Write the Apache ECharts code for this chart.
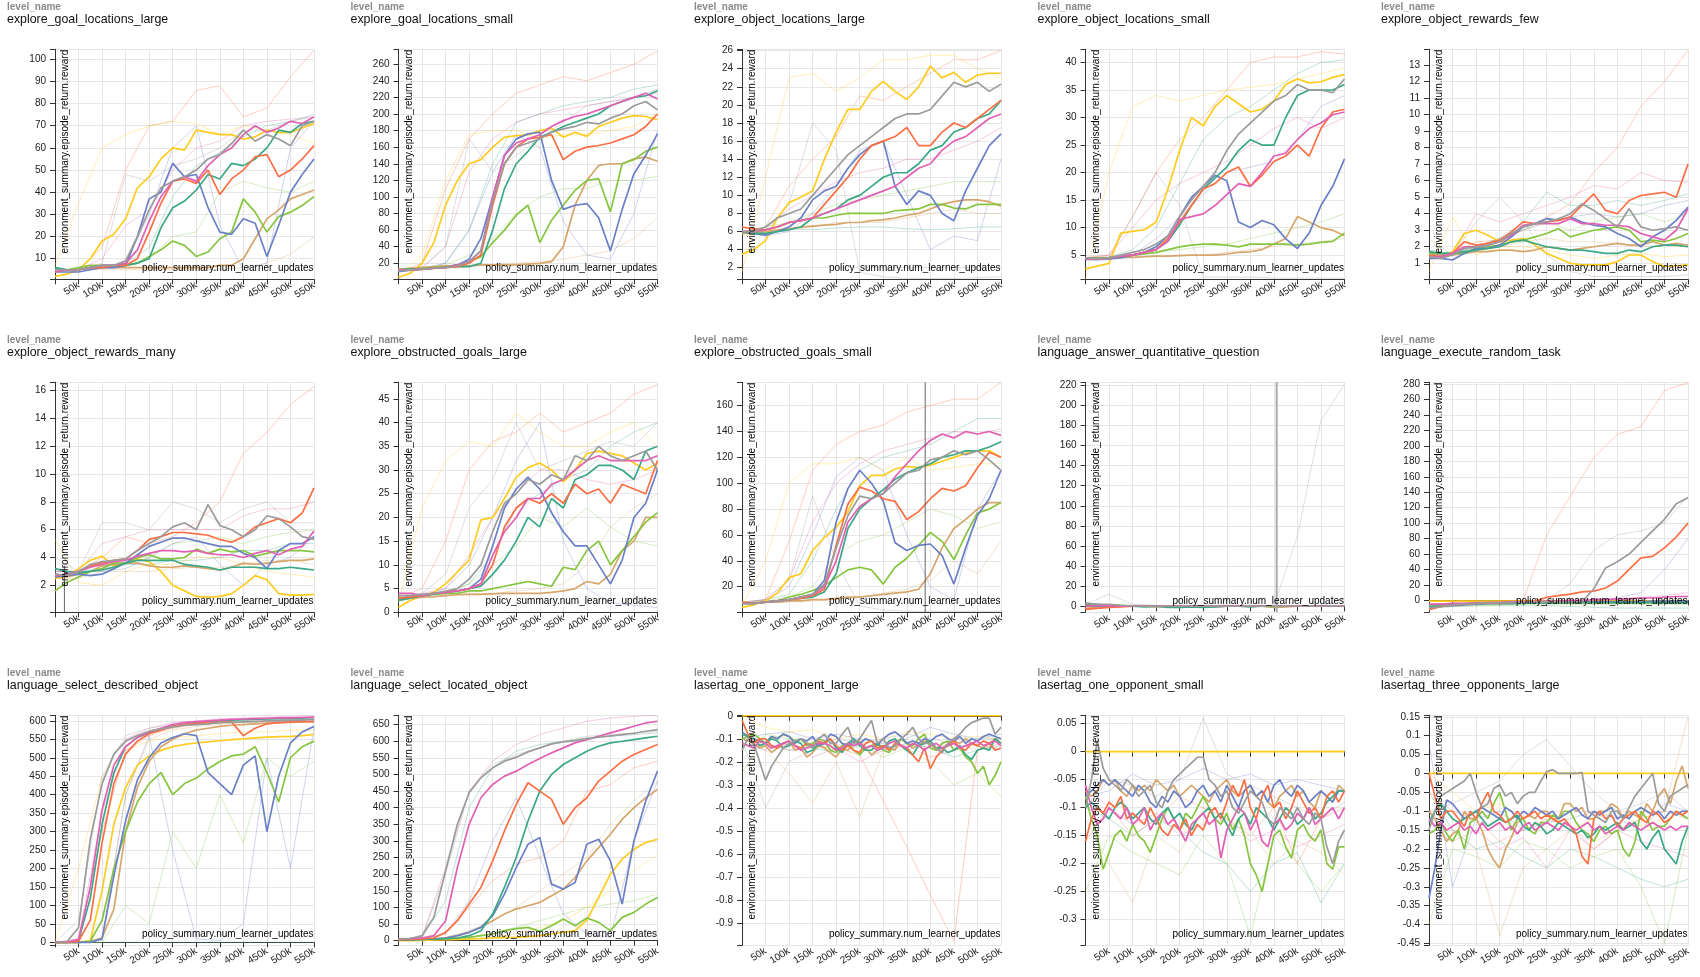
<!DOCTYPE html>
<html><head><meta charset="utf-8">
<script src="https://cdn.jsdelivr.net/npm/echarts@6/dist/echarts.min.js"></script>
<style>html,body{margin:0;padding:0;background:#fff}#chart{width:1700px;height:977px}</style>
</head><body><div id="chart"></div>
<script>
// ---------------- DATA ----------------
const levelNames = ['explore_goal_locations_large','explore_goal_locations_small','explore_object_locations_large','explore_object_locations_small','explore_object_rewards_few','explore_object_rewards_many','explore_obstructed_goals_large','explore_obstructed_goals_small','language_answer_quantitative_question','language_execute_random_task','language_select_described_object','language_select_located_object','lasertag_one_opponent_large','lasertag_one_opponent_small','lasertag_three_opponents_large'];
const xName = 'policy_summary.num_learner_updates';
const yName = 'environment_summary.episode_return.reward';
const stepsDense = [0,12500,25000,37500,50000,62500,75000,87500,100000,112500,125000,137500,150000,162500,175000,187500,200000,212500,225000,237500,250000,262500,275000,287500,300000,312500,325000,337500,350000,362500,375000,387500,400000,412500,425000,437500,450000,462500,475000,487500,500000,512500,525000,537500,550000];
const stepsBold = [0,25000,50000,75000,100000,125000,150000,175000,200000,225000,250000,275000,300000,325000,350000,375000,400000,425000,450000,475000,500000,525000,550000];
const stepsFaint = [0,50000,100000,150000,200000,250000,300000,350000,400000,450000,500000,550000];
// y extent per panel: [min, max, tick step]
const yExtents = [[0.7,104.5,10],[0.7,278,20],[0.72,26.15,2],[0.6,42.4,5],[0.03,13.95,1],[0.06,16.6,2],[0,48.5,5],[0.2,178,20],[-6,223,20],[-15.5,282.5,20],[-8,615,50],[-14,678,50],[-0.998,0.002,0.1],[-0.346,0.065,0.05],[-0.455,0.154,0.05]];
// run order in every block: teal, orange, blue, pink, green, yellow, tan, gray
const runs = ['teal','orange','blue','pink','green','yellow','tan','gray'];

const goalLocLargeBold = [
[6,5,5,6,7,7,7,8,10,24,33,36,41,48,46,53,52,55,60,68,67,71,72],
[4,5,5,6,6,7,7,10,22,35,45,46,44,50,39,46,50,56,57,47,50,55,61],
[4,4,4,5,6,6,7,20,37,40,53,47,48,33,22,21,28,26,11,25,40,48,55],
[4,5,5,6,7,7,8,14,27,38,45,47,45,52,57,60,66,70,67,69,72,71,74],
[6,5,6,7,7,7,7,8,11,14,18,16,11,13,19,22,37,31,22,29,31,34,38],
[2,3,5,10,18,21,28,42,47,55,60,59,68,67,66,66,64,65,68,67,67,69,71],
[5,5,5,6,6,6,6,6,6,6,6,6,6,6,7,7,10,19,28,32,37,39,41],
[5,5,5,6,7,7,9,20,32,42,45,47,50,55,57,62,68,63,66,64,61,70,72]];
const goalLocLargeFaint = [
[5,5,6,8,15,38,52,58,65,70,72,75],
[5,5,15,50,70,72,86,88,74,78,92,104],
[5,5,6,8,30,60,70,25,5,8,60,72],
[4,5,10,25,32,50,60,63,70,72,73,74],
[5,5,6,7,10,20,22,40,45,42,40,45],
[7,35,60,66,70,72,71,66,70,68,66,62],
[5,5,5,5,5,5,5,5,6,8,12,20],
[5,5,8,48,45,52,55,60,68,68,72,74]];

const goalLocSmallBold = [
[12,13,13,14,15,16,16,20,60,110,140,155,172,178,185,190,195,200,210,215,220,222,228],
[12,12,13,14,15,16,20,30,90,140,160,170,172,175,145,155,160,162,165,170,175,185,200],
[10,12,13,14,15,18,25,50,100,150,170,176,178,120,85,90,92,75,35,85,128,150,176],
[12,12,13,14,15,18,22,35,100,150,165,170,175,185,192,197,200,205,210,215,220,225,218],
[12,13,14,15,16,18,22,28,45,60,78,90,45,72,90,108,120,122,82,140,145,155,160],
[3,8,20,45,90,120,140,145,160,172,174,175,180,183,172,178,173,185,190,195,198,197,193],
[13,14,15,16,17,17,17,18,18,18,18,19,20,22,40,90,120,138,140,140,146,148,143],
[11,12,13,14,15,17,22,35,95,140,160,165,170,178,182,185,190,188,195,200,210,215,205]];
const goalLocSmallFaint = [
[12,14,20,60,140,190,200,210,215,220,230,235],
[10,20,110,170,200,225,235,245,240,250,260,276],
[10,12,20,60,130,175,160,70,30,25,80,180],
[10,14,40,130,170,190,200,205,210,215,220,225],
[10,12,18,30,50,80,100,110,110,120,120,125],
[5,30,120,175,180,180,170,175,175,180,185,200],
[10,12,14,16,18,20,22,25,30,35,50,75],
[10,15,40,170,130,150,170,190,210,215,220,230]];

const objLocLargeBold = [
[6,5.8,5.8,6,6.2,6.5,7.5,8,8.5,9.5,10,11,12,12.5,12.5,13.5,15,15.5,17,17.5,18.5,19,20.5],
[6.5,6.3,6.2,6.5,7,7.2,7.5,9,10.5,12,14,15.5,16,16.5,17.5,15.5,15.5,17,18,17.5,18.5,19.5,20.5],
[6,5.8,5.6,6,6.5,7.5,9.5,10.5,11,13,14.5,15.5,16,11,9,10.5,10,8,7.2,10.5,13,15.5,16.8],
[6,6,6.2,6.5,7,7.2,7.5,8,8.5,9,9.5,10,10.5,11,12,13,13.5,15,16,16.5,17.5,18.5,19],
[5.8,6,6.2,6.5,7,7.2,7.5,7.5,7.8,8,8,8,8,8.3,8.4,8.5,9,9,8.6,8.5,9,9,9],
[3.5,4,5,7.5,9.2,9.8,10.5,14,17,19.5,19.5,21.5,22.6,21.5,20.6,22,24.3,23,23.6,22.5,23.3,23.5,23.5],
[5.8,5.9,6,6.2,6.3,6.5,6.6,6.7,6.8,7,7,7.2,7.3,7.5,7.8,8,8.5,9,9.3,9.5,9.5,9.3,8.8],
[6,6,6.5,7.5,8,8.5,10,11.5,13,14.5,15.5,16.5,17.5,18.5,19,19,19.5,21,22.5,22,22.5,21.5,22.3]];
const objLocLargeFaint = [
[6,6,6.3,6.2,6.4,6.5,6.5,6.3,6.2,6.3,6.5,6.5],
[6,6.5,11,14,16.5,21,20.5,22,23.5,25,25,26],
[6,5.5,6,8,11,15,16,10,4,5.5,5,14],
[6,6.5,8.5,10,11.5,12.5,13,14,14,15,16,17.5],
[6,6.5,7,8,9,9.5,10,10.5,11,11.5,11.5,11.5],
[1.5,12,23,23.5,21.5,23,25,25,25.5,25.5,24,23],
[5.5,6,6.2,6.5,7,7,7,7.5,8,8.5,8,8],
[6,6,9,18,15,1.5,1,0.8,0.8,0.8,0.9,1]];

const objLocSmallBold = [
[4.5,4.3,4.5,4.8,5,5.5,6,7.5,10.5,14,17,19,21,24,26,25,25,30,34,35,35,35,36],
[4.5,4.3,4.5,4.8,5,5.5,6,8,11,14,17,18,20,21,17.5,19.5,22,23,25,23,28,31,31.5],
[4.3,4.2,4.3,4.5,5,5.5,6.5,8.5,12,15.5,17.5,19.5,18.5,11,10,11.3,10.5,8,6.2,9,14,17.5,22.5],
[4.3,4.2,4.5,4.8,5,5.5,6,7.5,11.5,12,12.5,14,16,18,17.5,20,23,23.5,26,28,29,30.5,31],
[4.5,4.5,4.6,4.8,5,5.2,5.5,6,6.5,6.8,7,7,6.8,6.5,7,7,7,7,6.8,7,7.3,7.5,9],
[2.5,3,3.5,9,9.3,9.6,11,17,24,30,28.5,32,34,32.5,31,31.5,33,36,37,36.3,36.5,37.3,37.8],
[4.5,4.4,4.5,4.6,4.6,4.7,4.8,4.8,4.9,5,5,5,5.2,5.5,5.6,6,7,8,12,11,10,9.5,8.5],
[4.5,4.3,4.5,5,5.5,6,7,8.5,12,15,17.5,20,24,27,29,31,33,34,36,35,35,34.5,37]];
const objLocSmallFaint = [
[4.5,4.6,6,10,18,26,30,32,35,38,40,40.5],
[4.5,5,12,20,26,30,35,40,41,41,42,41.5],
[4,4.2,5,8,12,16,20,21,22,26,32,34],
[4.5,5,10,15,18,20,22,25,28,30,28,30],
[4.5,4.5,5,5.5,6,6.5,7,8,9,10,11,12.5],
[0.6,20,32,34,33,34,35,35.5,36,37,38,39],
[4.5,4.5,4.7,4.8,5,5,5.5,6,6.5,7,7.5,8],
[4.5,4.5,12,20,14,1,1,1,0.8,0.8,0.8,0.8]];

const objRewardsFewBold = [
[1.7,1.6,1.6,1.7,1.8,1.9,2.0,2.3,2.4,2.2,2.0,1.9,1.8,1.8,1.7,1.6,1.6,1.8,1.7,2.0,2.1,2.1,2.0],
[1.5,1.4,1.6,2.3,2.1,2.2,2.4,2.9,3.5,3.4,3.5,3.6,3.8,4.5,5.2,4.2,4.0,4.8,5.1,5.2,5.3,5.0,7.0],
[1.3,1.3,1.2,1.6,1.9,1.9,2.1,2.6,3.2,3.4,3.7,3.6,3.8,3.5,3.3,3.2,2.8,2.5,2.0,2.6,3.0,3.6,4.4],
[1.4,1.4,1.6,2.0,2.0,2.1,2.3,2.7,3.3,3.4,3.4,3.4,3.7,3.4,3.4,3.3,3.3,3.2,2.8,2.6,2.4,3.0,4.3],
[1.6,1.6,1.6,1.6,1.9,2.0,2.1,2.3,2.4,2.6,2.8,3.1,2.6,2.8,3.0,3.1,3.2,3.0,2.3,2.4,2.3,2.5,2.8],
[1.5,1.3,1.7,2.8,3,2.7,2.3,2.4,2.5,2.1,1.6,1.3,1.0,0.9,0.9,0.9,1.1,1.5,1.5,1.1,0.8,0.85,0.9],
[1.6,1.5,1.5,1.6,1.7,1.7,1.8,1.8,1.7,1.8,2.0,1.9,1.8,1.9,2.0,2.1,2.2,2.1,2.1,2.3,2.1,2.2,2.1],
[1.4,1.3,1.5,1.9,2.0,2.1,2.3,2.8,3.2,3.4,3.5,3.7,4.0,4.6,4.2,3.7,3.2,4.3,3.2,3.0,3.1,3.2,3.0]];
const objRewardsFewFaint = [
[1.8,1.6,2,2.5,3.5,5.3,4.5,4.5,4.8,4.5,4.8,5.2],
[1.3,1.6,2.3,2.4,3.0,3.8,4.6,6.5,8,10.5,12,13.9],
[1.5,1.5,2,2.5,3,3.5,3.8,4,3.8,4,4.5,4.8],
[1.5,1.5,4,3.5,4,4.5,5,5.7,5.5,6.5,6,5.9],
[2.5,1.5,2,2.5,3,3.5,3,3.5,3.8,4,3.5,4],
[0.5,3.8,1.5,2.0,2.0,1.8,1.5,1.3,1.5,1.6,1.4,1.5],
[1.6,1.5,1.8,2,2.3,2.5,2.3,2.3,2.2,2,2.1,2],
[1.5,1.5,3.5,5,3.5,1.5,0.5,0.2,0.2,0.2,0.2,0.3]];

const objRewardsManyBold = [
[3.2,3.0,2.9,3.0,3.1,3.3,3.6,3.8,3.8,3.8,3.8,3.5,3.4,3.3,3.1,3.3,3.3,3.3,3.2,3.2,3.3,3.2,3.1],
[2.8,2.7,3.0,3.4,3.6,3.8,3.9,4.5,5.3,5.5,5.8,5.8,5.7,5.6,5.3,5.1,5.5,6.2,6.5,6.8,6.5,7.2,9.0],
[2.6,2.7,2.8,2.7,2.8,3.2,3.6,4.2,4.8,5.1,5.4,5.4,5.2,5.0,4.8,4.8,4.3,4.0,3.2,4.5,5.0,5.0,5.5],
[2.7,2.8,3.0,3.3,3.5,3.7,3.8,4.1,4.3,4.5,4.5,4.4,4.5,4.3,4.2,4.2,4.0,4.3,4.5,4.2,4.6,4.8,5.9],
[1.6,2.2,2.6,3.0,3.2,3.6,3.6,4.0,4.2,3.9,3.9,4.0,4.6,4.3,4.6,4.4,4.5,4.1,4.3,4.5,4.5,4.5,4.4],
[2.5,2.6,3.2,3.8,4.1,3.4,3.6,3.9,3.7,3.0,2.0,1.6,1.2,1.15,1.2,1.4,2.0,2.7,2.4,1.4,1.3,1.3,1.35],
[2.7,2.6,2.8,3.0,3.4,3.5,3.6,3.6,3.4,3.3,3.3,3.4,3.3,3.2,3.1,3.3,3.6,3.5,3.6,3.7,3.8,3.8,3.9],
[2.8,2.7,3.0,3.5,3.7,3.8,3.9,4.5,5.0,5.5,6.2,6.5,6.0,7.8,6.3,6.0,5.5,6.0,7.0,6.8,6.2,5.5,5.3]];
const objRewardsManyFaint = [
[3,3,3.2,3.5,3.5,3.8,3.8,4,4.5,4.5,5,5],
[3,3,4,5.5,5,5.5,6.5,8,11.5,13,15,16.3],
[3,3,3,3.2,4,5,5.5,3.5,2,3.5,4,5.5],
[3,3,5,5.5,6,6,6,6,7,7.5,7.5,8],
[2.5,3,3.5,3.5,4,5,5.2,5.5,5,5.5,5.8,6],
[5.3,2.2,2,3,3.5,3.5,4,4,3.5,3,2.8,2.6],
[2.5,2.5,3,3,3,3.2,3.3,3.3,3.5,3.8,3.8,3.5],
[4,3,6.5,6.5,6,8,7.5,6.5,7.5,8,6.5,6.5]];

const obstructedLargeBold = [
[2.5,3,3.5,3.8,4.2,4.5,5,5.5,8,11,15,20,18,24,22,28,29,31,31,30,28,34,35],
[3,3.2,3.5,4,4.2,4.5,5,6,10,18,22,24,23,25,23,27,25,26,23,27,26,25,32],
[3,3.2,3.5,4,4.2,4.5,5,7,14,22,26,28.5,26,21,17,14,14,10,6,11,20,23,30],
[4,4,3.5,4,4.2,4.5,5,6,12,17,20,24,24,27,28,30,32,33,32,32,32,32,33],
[2.5,3,3.5,3.8,4,4,4.5,4.5,5,5.5,6,6.5,6,5.5,9.5,9,13,15,10,13,16,19,21],
[1,2.5,3.5,4.2,6,8.5,11,19.5,20,24,28.5,30.5,31.5,30,27.5,30,33.5,34,33.5,33,31.5,30,31.5],
[3,3,3.2,3.3,3.5,3.7,3.8,3.8,3.9,4,4,4,4,4.2,4.5,5,6.5,6,8,13,15,20,20],
[3.5,3.5,3.8,4,4.5,5,7,10,17,23,25,28,27,29,28,33,32,35,33,32,33,34,30]];
const obstructedLargeFaint = [
[3,3.5,4,6,12,22,25,28,30,35,38,40],
[3,5,15,30,36,38,42,38,40,42,46,48],
[3,3.5,5,10,20,32,40,15,5,2,1.5,1],
[4,4,5,12,20,25,30,30,28,27,28,30],
[3,3.5,4,6,10,14,20,18,22,18,15,14],
[2,22,32,36,35,42,38,35,35,38,40,35],
[3,3,3.5,4,4,4.5,5,6,10,18,22,25],
[3,4,8,22,28,40,30,32,34,36,35,40]];

const obstructedSmallBold = [
[7,7,8,9,10,11,12,16,30,65,80,88,95,103,108,112,115,120,122,125,125,128,132],
[8,7,8,9,10,11,13,18,52,84,97,94,88,86,72,78,88,96,94,98,112,124,120],
[7,7,8,9,10,12,14,25,70,96,110,100,86,54,48,52,53,44,22,50,75,88,110],
[7,7,8,9,10,12,14,20,40,70,82,88,92,105,115,125,133,138,135,140,138,140,137],
[8,7,8,9,12,14,17,21,27,33,35,33,22,35,42,52,62,55,41,60,77,80,85],
[4,6,9,15,27,30,48,58,66,78,98,106,106,111,113,112,114,117,120,123,125,125,120],
[7,7,8,8,9,9,10,10,11,12,12,13,14,15,16,18,30,50,65,72,80,85,85],
[7,7,8,9,10,12,14,22,50,75,90,88,92,100,108,110,118,120,125,122,125,118,110]];
const obstructedSmallFaint = [
[8,10,14,40,80,110,120,125,130,140,150,150],
[7,10,55,110,130,140,145,155,160,165,165,178],
[7,9,20,60,105,120,110,60,20,10,80,110],
[8,10,25,70,100,115,125,130,135,140,138,142],
[7,9,12,20,45,55,60,70,80,75,65,70],
[5,40,100,115,115,120,110,120,110,112,115,115],
[7,8,8,9,10,12,15,18,25,40,30,55],
[8,10,25,90,40,5,2,1,1,1,1,1]];

const quantQuestionBold = [
[3,2,1,0.5,0,-0.5,0,-1,-1,-0.5,-1,-0.5,0,0,-0.5,0,0,0,0.5,0,0,0.5,0.5],
[-3,-2,-1,-0.5,0,0.5,0,0,0.5,0,0,0.5,0,0,0.5,0,0,0,0.5,0,0.5,0.5,0.5],
[1,0,0.5,0,0,0,0.5,0,0,0.5,0,0,0.5,0,0,0,0.5,0,0,0.5,0,0,0.5],
[0,1,0.5,0,0.5,0,0,0.5,0,0,0.5,0,0,0.5,0,0,0,0.5,0,0,0.5,0,0],
[2,1,0.5,1,0,0,0.5,0,-0.5,-0.5,0,0,0,0.5,0,0,-0.5,0,0,0,0.5,0,0.5],
[0.5,0.5,0.5,0,0,0,0,0,0,0,0,0,0,0,0,0,0,0,0,0,0,0,0],
[-2,-1,0,0.5,0,0,-0.5,0,-1,-0.5,0,-0.5,0,0,0,0,-1,-0.5,0,0,0,0,0],
[3,2,2,1,0.5,0,0.5,0,0,0.5,0,0.5,0,0,0.5,0,0,0.5,0,0.5,0,0.5,0]];
const quantQuestionFaint = [
[2,1,0,0,-1,0,0,0,0,0,0,0],
[-2,0,0,0,0,0,0,0,0,0,0,0],
[1,0,0,0,0,0,0,0,0,0,0,8],
[0,0,0,0,0,0,0,0,0,0,0,0],
[1,0,0,-1,0,0,0,0,0,0,0,0],
[0,0,0,0,0,0,0,0,0,0,0,0],
[-1,0,0,0,-1,0,0,0,0,0,0,0],
[2,12,2,1,0,0,0,0,0,70,185,221]];

const randomTaskBold = [
[-8,-7,-6,-5,-4,-4,-4,-4,-4,-3,-3,-3,-3,-3,-3,-3,-3,-3,-3,-3,-3,-3,-3],
[-12,-8,-6,-5,-4,-3,-3,-2,-2,-1,4,6,8,11,12,16,25,40,55,57,68,82,100],
[-10,-8,-7,-6,-5,-4,-4,-4,-3,-3,-3,-2,-2,-2,-2,-2,-2,-2,-2,-1,-1,-1,-1],
[-5,-5,-4,-4,-3,-3,-3,-2,-2,-2,-1,-1,0,0,1,1,2,2,3,3,4,5,5],
[-8,-7,-6,-5,-5,-4,-4,-4,-4,-3,-3,-3,-3,-3,-3,-3,-3,-3,-3,-3,-3,-3,-3],
[-1,-1,-1,-1,-1,-1,-1,-1,-1,-1,-1,-1,-1,-1,-1,-1,-1,-1,-1,-1,-1,-1,-1],
[-6,-5,-5,-5,-4,-4,-4,-4,-3,-3,-3,-3,-3,-3,-3,-3,-3,-3,-3,-2,-2,-2,-2],
[-10,-8,-6,-5,-4,-3,-3,-3,-3,-2,-2,-2,-2,-2,15,42,50,60,75,90,105,125,133]];
const randomTaskFaint = [
[-10,-8,-7,-7,-7,-7,-8,-9,-10,-10,-10,-10],
[-12,-5,-4,-3,0,85,135,185,215,225,272,282],
[-8,-6,-5,-4,-3,-3,-2,-2,3,10,40,80],
[-5,-4,-3,-3,-2,-2,-1,0,2,4,6,10],
[-10,-8,-7,-6,-5,-5,-5,-5,-5,-5,-5,-5],
[0,0,0,0,0,0,0,0,0,0,0,0],
[-8,-6,-5,-4,-4,-3,-2,-2,-1,-1,0,0],
[-5,-4,-3,-3,-2,-1,22,65,85,90,100,135]];

const describedObjectBold = [
[0,0,5,120,320,460,530,555,568,578,586,590,595,598,600,602,603,604,605,606,606,605,604],
[0,0,3,60,270,430,510,545,565,575,585,590,593,595,596,597,560,580,592,595,597,598,598],
[0,0,0,0,10,180,330,440,500,540,555,565,560,460,430,400,480,505,300,450,540,570,585],
[0,1,8,150,360,480,530,555,570,580,590,595,598,600,602,604,605,606,607,608,608,609,610],
[0,0,0,3,60,200,300,380,430,460,400,430,445,470,490,505,510,530,460,380,500,530,545],
[0,0,0,5,140,320,420,480,505,520,530,536,540,543,546,549,551,554,556,557,558,560,563],
[0,0,0,2,12,90,300,420,490,530,550,565,575,580,585,588,590,592,594,595,596,597,598],
[0,1,40,280,430,510,545,560,572,578,583,588,590,592,595,596,597,598,600,600,601,602,604]];
const describedObjectFaint = [
[0,0,0,0,0,0,0,0,0,0,0,0],
[0,5,300,520,560,580,590,595,600,600,605,605],
[0,0,5,400,560,250,10,5,50,500,200,580],
[0,10,350,550,580,595,600,605,608,610,612,613],
[0,0,0,100,50,300,200,400,270,500,450,490],
[0,200,450,520,545,555,560,565,570,570,575,575],
[0,0,10,400,550,575,585,590,595,598,600,600],
[0,60,450,560,580,590,595,600,600,605,605,610]];

const locatedObjectBold = [
[2,3,4,5,6,8,15,30,80,160,250,360,450,500,530,550,570,585,595,600,605,610,615],
[3,4,5,8,25,60,110,160,240,330,410,475,450,425,350,400,430,480,510,540,560,575,590],
[2,3,4,5,8,15,25,40,75,140,220,290,310,170,155,175,290,305,240,110,300,420,510],
[5,6,8,15,60,220,350,430,470,495,510,530,548,565,580,595,605,615,625,635,645,655,660],
[2,3,4,5,6,8,10,15,20,30,36,40,28,45,65,45,68,55,30,70,85,110,130],
[0,0,1,2,3,4,5,6,8,9,10,12,15,20,25,30,62,130,200,245,275,295,305],
[2,3,4,5,8,15,25,40,60,80,95,105,115,135,155,190,240,280,320,365,400,430,455],
[5,6,15,70,210,350,445,490,520,540,552,568,580,592,598,602,608,612,616,620,624,630,635]];
const locatedObjectFaint = [
[5,10,120,400,520,570,590,600,610,615,620,625],
[3,5,20,100,180,230,250,300,450,470,520,540],
[3,5,20,120,300,430,250,80,20,10,300,480],
[5,10,220,450,540,590,620,640,660,670,675,678],
[2,3,5,10,20,40,60,80,100,110,120,140],
[0,0,2,5,10,20,40,60,100,150,210,260],
[3,5,10,30,60,100,150,200,250,350,420,480],
[5,10,200,450,530,560,580,600,615,620,625,630]];

const oneOppLargeBold = [
[-0.08,-0.09,-0.1,-0.13,-0.12,-0.1,-0.11,-0.14,-0.13,-0.11,-0.12,-0.16,-0.15,-0.12,-0.12,-0.1,-0.14,-0.16,-0.12,-0.1,-0.13,-0.15,-0.15,-0.12,-0.14,-0.11,-0.1,-0.13,-0.15,-0.17,-0.13,-0.12,-0.11,-0.14,-0.14,-0.16,-0.15,-0.13,-0.17,-0.19,-0.15,-0.14,-0.15,-0.1,-0.12],
[-0.02,-0.08,-0.12,-0.1,-0.1,-0.13,-0.14,-0.12,-0.11,-0.13,-0.14,-0.12,-0.13,-0.11,-0.12,-0.1,-0.13,-0.15,-0.13,-0.15,-0.16,-0.12,-0.11,-0.14,-0.13,-0.15,-0.12,-0.13,-0.14,-0.17,-0.2,-0.14,-0.23,-0.18,-0.15,-0.12,-0.11,-0.14,-0.15,-0.12,-0.13,-0.11,-0.12,-0.15,-0.14],
[-0.07,-0.09,-0.1,-0.11,-0.12,-0.09,-0.1,-0.08,-0.09,-0.12,-0.1,-0.11,-0.09,-0.13,-0.12,-0.08,-0.09,-0.12,-0.13,-0.11,-0.12,-0.1,-0.11,-0.13,-0.1,-0.08,-0.07,-0.09,-0.12,-0.11,-0.12,-0.1,-0.11,-0.09,-0.08,-0.1,-0.11,-0.09,-0.12,-0.1,-0.11,-0.09,-0.08,-0.09,-0.1],
[-0.12,-0.13,-0.14,-0.11,-0.12,-0.14,-0.13,-0.12,-0.11,-0.13,-0.15,-0.14,-0.13,-0.12,-0.12,-0.13,-0.15,-0.14,-0.12,-0.13,-0.12,-0.14,-0.13,-0.15,-0.14,-0.12,-0.11,-0.13,-0.14,-0.12,-0.13,-0.15,-0.13,-0.12,-0.14,-0.13,-0.12,-0.14,-0.13,-0.12,-0.11,-0.13,-0.12,-0.11,-0.13],
[-0.1,-0.09,-0.08,-0.1,-0.12,-0.09,-0.1,-0.08,-0.09,-0.11,-0.1,-0.13,-0.12,-0.1,-0.11,-0.15,-0.16,-0.13,-0.12,-0.15,-0.17,-0.14,-0.13,-0.12,-0.15,-0.16,-0.12,-0.1,-0.12,-0.13,-0.1,-0.08,-0.14,-0.15,-0.12,-0.11,-0.15,-0.14,-0.18,-0.2,-0.25,-0.22,-0.3,-0.26,-0.2],
[0,0,0,0,0,0,0,0,0,0,0,0,0,0,0,0,0,0,0,0,0,0,0,0,0,0,0,0,0,0,0,0,0,0,0,0,0,0,0,0,0,0,0,0,0],
[-0.1,-0.11,-0.12,-0.14,-0.13,-0.16,-0.14,-0.12,-0.11,-0.15,-0.14,-0.18,-0.16,-0.13,-0.14,-0.16,-0.18,-0.14,-0.15,-0.12,-0.11,-0.14,-0.17,-0.15,-0.13,-0.14,-0.15,-0.1,-0.12,-0.14,-0.13,-0.11,-0.12,-0.15,-0.14,-0.13,-0.11,-0.12,-0.1,-0.12,-0.13,-0.14,-0.12,-0.1,-0.12],
[-0.15,-0.1,-0.12,-0.2,-0.28,-0.22,-0.18,-0.14,-0.12,-0.11,-0.1,-0.12,-0.14,-0.1,-0.08,-0.12,-0.12,-0.08,-0.05,-0.12,-0.1,-0.06,-0.02,-0.12,-0.1,-0.14,-0.13,-0.1,-0.08,-0.05,-0.1,-0.12,-0.12,-0.14,-0.16,-0.12,-0.1,-0.08,-0.05,-0.03,-0.02,-0.01,-0.01,-0.08,-0.05]];
const oneOppLargeFaint = [
[-0.1,-0.12,-0.15,-0.14,-0.16,-0.13,-0.15,-0.12,-0.14,-0.18,-0.15,-0.13],
[-0.1,-0.12,-0.15,-0.13,-0.14,-0.17,-0.37,-0.57,-0.78,-0.98,-0.15,-0.12],
[-0.1,-0.08,-0.07,-0.1,-0.08,-0.1,-0.12,-0.1,-0.05,-0.08,-0.1,-0.08],
[-0.12,-0.15,-0.12,-0.18,-0.14,-0.2,-0.15,-0.13,-0.18,-0.15,-0.12,-0.15],
[-0.25,-0.08,-0.1,-0.12,-0.15,-0.12,-0.18,-0.14,-0.2,-0.3,-0.25,-0.35],
[0,-0.05,-0.07,-0.06,-0.1,-0.08,-0.1,-0.07,-0.08,-0.1,-0.09,-0.1],
[-0.1,-0.15,-0.25,-0.38,-0.2,-0.44,-0.15,-0.12,-0.14,-0.12,-0.15,-0.13],
[-0.1,-0.4,-0.2,-0.15,-0.1,-0.12,-0.1,-0.08,-0.1,-0.12,-0.1,-0.1]];

const oneOppSmallBold = [
[-0.1,-0.09,-0.1,-0.11,-0.12,-0.1,-0.09,-0.1,-0.12,-0.11,-0.1,-0.12,-0.13,-0.11,-0.1,-0.12,-0.11,-0.13,-0.14,-0.12,-0.11,-0.1,-0.12,-0.11,-0.13,-0.15,-0.12,-0.11,-0.13,-0.1,-0.11,-0.12,-0.14,-0.12,-0.1,-0.11,-0.13,-0.12,-0.1,-0.12,-0.11,-0.09,-0.08,-0.07,-0.07],
[-0.16,-0.12,-0.1,-0.11,-0.09,-0.1,-0.08,-0.12,-0.11,-0.12,-0.13,-0.1,-0.12,-0.14,-0.15,-0.13,-0.14,-0.12,-0.15,-0.13,-0.14,-0.11,-0.1,-0.12,-0.09,-0.06,-0.08,-0.05,-0.1,-0.12,-0.08,-0.06,-0.1,-0.09,-0.12,-0.1,-0.07,-0.09,-0.11,-0.1,-0.12,-0.08,-0.07,-0.09,-0.07],
[-0.08,-0.07,-0.06,-0.05,-0.06,-0.05,-0.06,-0.07,-0.08,-0.06,-0.07,-0.09,-0.1,-0.08,-0.09,-0.07,-0.08,-0.1,-0.09,-0.07,-0.06,-0.08,-0.07,-0.09,-0.06,-0.08,-0.1,-0.07,-0.06,-0.08,-0.07,-0.09,-0.06,-0.05,-0.07,-0.08,-0.06,-0.07,-0.09,-0.08,-0.07,-0.08,-0.09,-0.07,-0.07],
[-0.06,-0.1,-0.13,-0.12,-0.1,-0.11,-0.12,-0.1,-0.13,-0.12,-0.1,-0.14,-0.12,-0.11,-0.13,-0.12,-0.14,-0.16,-0.13,-0.12,-0.11,-0.13,-0.12,-0.19,-0.14,-0.12,-0.1,-0.11,-0.14,-0.12,-0.16,-0.17,-0.13,-0.12,-0.14,-0.13,-0.11,-0.12,-0.1,-0.13,-0.12,-0.11,-0.1,-0.12,-0.1],
[-0.08,-0.12,-0.15,-0.21,-0.18,-0.15,-0.14,-0.16,-0.13,-0.15,-0.16,-0.18,-0.15,-0.12,-0.1,-0.12,-0.14,-0.11,-0.12,-0.1,-0.08,-0.1,-0.12,-0.13,-0.11,-0.14,-0.12,-0.15,-0.2,-0.22,-0.25,-0.2,-0.15,-0.14,-0.17,-0.19,-0.14,-0.13,-0.15,-0.16,-0.14,-0.2,-0.21,-0.17,-0.17],
[0,0,0,0,0,0,0,0,0,0,0,0,0,0,0,0,0,0,0,0,0,0,0,0,0,0,0,0,0,0,0,0,0,0,0,0,0,0,0,0,0,0,0,0,0],
[-0.07,-0.08,-0.07,-0.05,-0.06,-0.05,-0.07,-0.08,-0.06,-0.07,-0.06,-0.07,-0.05,-0.06,-0.07,-0.06,-0.08,-0.07,-0.06,-0.07,-0.08,-0.09,-0.07,-0.06,-0.05,-0.07,-0.08,-0.07,-0.06,-0.08,-0.07,-0.09,-0.1,-0.08,-0.07,-0.06,-0.08,-0.07,-0.09,-0.1,-0.07,-0.08,-0.09,-0.06,-0.07],
[-0.1,-0.05,0.02,-0.03,-0.05,-0.06,-0.07,-0.05,-0.06,-0.08,-0.07,-0.06,-0.09,-0.1,-0.07,-0.05,-0.04,-0.03,-0.02,-0.01,-0.01,-0.05,-0.06,-0.08,-0.07,-0.1,-0.11,-0.09,-0.07,-0.08,-0.09,-0.12,-0.13,-0.1,-0.11,-0.12,-0.1,-0.12,-0.13,-0.11,-0.12,-0.17,-0.2,-0.16,-0.14]];
const oneOppSmallFaint = [
[-0.1,-0.12,-0.15,-0.12,-0.14,-0.18,-0.2,-0.25,-0.2,-0.18,-0.27,-0.2],
[-0.16,-0.1,-0.15,-0.12,-0.08,-0.1,-0.12,-0.15,-0.1,-0.2,-0.12,-0.1],
[-0.08,-0.07,-0.04,-0.06,-0.05,-0.03,-0.05,-0.04,-0.06,-0.05,-0.06,-0.07],
[-0.06,-0.1,-0.13,-0.11,-0.15,-0.13,-0.12,-0.16,-0.14,-0.17,-0.15,-0.13],
[-0.25,-0.15,-0.18,-0.2,-0.22,-0.15,-0.2,-0.33,-0.15,-0.2,-0.25,-0.2],
[0,0,0,0,0,0,0,0,0,0,0.003,0.002],
[-0.12,-0.2,-0.27,-0.15,-0.18,-0.1,-0.13,-0.14,-0.2,-0.16,-0.18,-0.22],
[-0.1,-0.05,-0.06,-0.08,-0.05,0.06,-0.04,-0.06,-0.08,-0.1,-0.12,-0.09]];

const threeOppLargeBold = [
[-0.13,-0.1,-0.08,-0.1,-0.12,-0.13,-0.12,-0.11,-0.1,-0.12,-0.14,-0.13,-0.12,-0.13,-0.12,-0.11,-0.14,-0.15,-0.13,-0.14,-0.16,-0.15,-0.13,-0.14,-0.15,-0.16,-0.15,-0.17,-0.16,-0.14,-0.15,-0.14,-0.13,-0.15,-0.14,-0.13,-0.18,-0.2,-0.17,-0.15,-0.2,-0.22,-0.24,-0.18,-0.14],
[0,-0.06,-0.12,-0.1,-0.1,-0.12,-0.14,-0.1,-0.12,-0.08,-0.05,-0.1,-0.11,-0.13,-0.12,-0.1,-0.12,-0.11,-0.1,-0.12,-0.11,-0.12,-0.13,-0.12,-0.14,-0.16,-0.22,-0.24,-0.12,-0.1,-0.12,-0.11,-0.14,-0.12,-0.11,-0.1,-0.12,-0.13,-0.1,-0.11,-0.13,-0.12,-0.1,-0.11,-0.1],
[-0.33,-0.25,-0.15,-0.07,-0.08,-0.1,-0.12,-0.11,-0.1,-0.09,-0.1,-0.11,-0.12,-0.09,-0.1,-0.12,-0.1,-0.11,-0.09,-0.1,-0.11,-0.1,-0.12,-0.11,-0.1,-0.09,-0.11,-0.12,-0.1,-0.11,-0.1,-0.09,-0.12,-0.11,-0.12,-0.1,-0.09,-0.1,-0.11,-0.1,-0.12,-0.1,-0.11,-0.1,-0.1],
[-0.12,-0.14,-0.13,-0.15,-0.14,-0.13,-0.15,-0.14,-0.16,-0.13,-0.15,-0.14,-0.13,-0.15,-0.14,-0.16,-0.14,-0.13,-0.15,-0.14,-0.13,-0.14,-0.15,-0.13,-0.14,-0.15,-0.14,-0.13,-0.15,-0.14,-0.16,-0.15,-0.14,-0.15,-0.13,-0.14,-0.15,-0.14,-0.13,-0.14,-0.15,-0.14,-0.15,-0.14,-0.14],
[-0.16,-0.15,-0.13,-0.16,-0.18,-0.15,-0.2,-0.13,-0.12,-0.1,-0.12,-0.08,-0.05,-0.1,-0.15,-0.12,-0.12,-0.15,-0.16,-0.13,-0.13,-0.11,-0.12,-0.1,-0.1,-0.13,-0.15,-0.16,-0.18,-0.15,-0.14,-0.16,-0.15,-0.2,-0.22,-0.18,-0.1,-0.12,-0.15,-0.14,-0.14,-0.12,-0.1,-0.11,-0.12],
[0,0,0,0,0,0,0,0,0,0,0,0,0,0,0,0,0,0,0,0,0,0,0,0,0,0,0,0,0,0,0,0,0,0,0,0,0,0,0,0,0,0,0,0,0],
[-0.1,-0.12,-0.15,-0.18,-0.16,-0.15,-0.1,-0.12,-0.12,-0.15,-0.2,-0.23,-0.25,-0.2,-0.17,-0.13,-0.12,-0.11,-0.12,-0.1,-0.1,-0.12,-0.12,-0.08,-0.08,-0.1,-0.09,-0.12,-0.12,-0.1,-0.1,-0.08,-0.09,-0.12,-0.1,-0.11,-0.12,-0.08,-0.1,-0.06,-0.04,-0.08,-0.02,0.02,-0.04],
[-0.15,-0.1,-0.06,-0.05,-0.04,-0.03,-0.02,0,-0.05,-0.09,-0.08,-0.04,-0.03,-0.06,-0.05,-0.08,-0.06,-0.05,-0.05,-0.02,0.005,0.01,0,0,0,0,0.003,-0.1,-0.11,-0.12,-0.13,-0.1,-0.1,-0.12,-0.09,-0.06,-0.04,-0.02,0,-0.08,-0.1,-0.06,-0.05,-0.04,-0.03]];
const threeOppLargeFaint = [
[-0.05,-0.15,-0.2,-0.18,-0.22,-0.25,-0.2,-0.22,-0.25,-0.28,-0.3,-0.28],
[-0.05,-0.1,-0.12,-0.18,-0.15,-0.12,-0.14,-0.2,-0.15,-0.12,-0.1,-0.12],
[0.08,-0.3,-0.12,-0.1,-0.15,-0.13,-0.12,-0.1,-0.12,-0.15,-0.08,-0.1],
[-0.15,-0.18,-0.15,-0.2,-0.17,-0.25,-0.15,-0.2,-0.15,-0.18,-0.2,-0.22],
[-0.4,-0.2,-0.22,-0.25,-0.18,-0.2,-0.25,-0.22,-0.2,-0.3,-0.45,-0.15],
[0,-0.05,-0.1,-0.08,-0.12,-0.1,-0.15,-0.12,-0.1,-0.14,-0.12,-0.1],
[-0.1,-0.15,-0.2,-0.43,-0.25,-0.2,-0.15,-0.18,-0.15,-0.12,-0.1,0.15],
[-0.1,-0.08,-0.05,-0.02,0.05,0.09,0.02,-0.05,-0.1,-0.08,-0.05,-0.1]];

// vertical hover rules seen in three panels: [panel, step, from, to]
const hoverRules = [[5,20000,0.06,3.4],[7,389000,0.2,178],[8,406000,-6,223]];

const boldBlocks = [goalLocLargeBold,goalLocSmallBold,objLocLargeBold,objLocSmallBold,objRewardsFewBold,objRewardsManyBold,obstructedLargeBold,obstructedSmallBold,quantQuestionBold,randomTaskBold,describedObjectBold,locatedObjectBold,oneOppLargeBold,oneOppSmallBold,threeOppLargeBold];
const faintBlocks = [goalLocLargeFaint,goalLocSmallFaint,objLocLargeFaint,objLocSmallFaint,objRewardsFewFaint,objRewardsManyFaint,obstructedLargeFaint,obstructedSmallFaint,quantQuestionFaint,randomTaskFaint,describedObjectFaint,locatedObjectFaint,oneOppLargeFaint,oneOppSmallFaint,threeOppLargeFaint];

// ---------------- STYLE / LAYOUT ----------------
const runColors = {teal:'#3aa886',orange:'#fc6e44',blue:'#6b80c6',pink:'#e260b3',green:'#86c540',yellow:'#ffcb1f',tan:'#d6a66c',gray:'#9b9b9b'};
const boldDrawOrder = ['yellow','tan','green','blue','teal','orange','pink','gray'];
const FONT = '"Liberation Sans", Arial, Helvetica, sans-serif';
const PW = 259, PH = 230;
function panelBox(i){ const c = i % 5, r = Math.floor(i / 5); return {L: 55 + 343.5 * c, T: 49.3 + 333 * r}; }
function stepsFor(vals){ return vals.length === stepsDense.length ? stepsDense : (vals.length === stepsBold.length ? stepsBold : stepsFaint); }

const grids = [], xAxes = [], yAxes = [], series = [], graphics = [];
levelNames.forEach((name, i) => {
  const {L, T} = panelBox(i);
  const [ymin, ymax, ystep] = yExtents[i];
  grids.push({left: L, top: T, width: PW, height: PH, containLabel: false});
  xAxes.push({type: 'value', gridIndex: i, min: 0, max: 550000, interval: 50000,
    axisLine: {show: true, lineStyle: {color: '#333', width: 1}},
    axisTick: {show: true, length: 5, lineStyle: {color: '#333'}},
    axisLabel: {rotate: 32, margin: 5, fontSize: 10, color: '#222', fontFamily: FONT,
      formatter: v => v === 0 ? '' : (v / 1000) + 'k'},
    splitLine: {show: true, lineStyle: {color: '#e6e6e6', width: 1}}});
  yAxes.push({type: 'value', gridIndex: i, min: ymin, max: ymax,
    splitNumber: Math.round((ymax - ymin) / ystep),
    axisLine: {show: true, lineStyle: {color: '#333', width: 1}},
    axisTick: {show: true, length: 5, lineStyle: {color: '#333'}},
    axisLabel: {margin: 9, fontSize: 10, color: '#222', fontFamily: FONT, showMinLabel: true, showMaxLabel: true,
      formatter: v => { const k = v / ystep; if (Math.abs(k - Math.round(k)) > 1e-6) return ''; return String(+v.toFixed(6)); }},
    splitLine: {show: true, lineStyle: {color: '#e6e6e6', width: 1}}});
  faintBlocks[i].forEach((vals, k) => {
    const xs = stepsFor(vals);
    series.push({type: 'line', xAxisIndex: i, yAxisIndex: i, silent: true, showSymbol: false, symbol: 'none',
      animation: false, z: 2,
      lineStyle: {color: runColors[runs[k]], width: 1, opacity: 0.33},
      data: vals.map((v, j) => [xs[j], v])});
  });
  boldDrawOrder.forEach(run => {
    const k = runs.indexOf(run);
    const vals = boldBlocks[i][k];
    const xs = stepsFor(vals);
    series.push({type: 'line', xAxisIndex: i, yAxisIndex: i, silent: true, showSymbol: false, symbol: 'none',
      animation: false, z: 3,
      lineStyle: {color: runColors[run], width: 1.7},
      data: vals.map((v, j) => [xs[j], v])});
  });
  graphics.push({type: 'text', x: L - 48, y: T - 41.8, z: 100, silent: true,
    style: {text: 'level_name', fill: '#8a8a8a', fontSize: 10, fontWeight: 'bold', fontFamily: FONT, align: 'left', verticalAlign: 'middle'}});
  graphics.push({type: 'text', x: L - 48, y: T - 29.6, z: 100, silent: true,
    style: {text: name, fill: '#111', fontSize: 12.4, fontFamily: FONT, align: 'left', verticalAlign: 'middle'}});
  graphics.push({type: 'text', x: L + 10.5, y: T + 0.5, rotation: Math.PI / 2, z: 100, silent: true,
    style: {text: yName, fill: '#000', fontSize: 10, fontFamily: FONT, align: 'right', verticalAlign: 'middle'}});
  graphics.push({type: 'text', x: L + PW - 0.5, y: T + PH - 11, z: 100, silent: true,
    style: {text: xName, fill: '#000', fontSize: 10, fontFamily: FONT, align: 'right', verticalAlign: 'middle'}});
});
hoverRules.forEach(([p, step, from, to], n) => {
  series.push({type: 'line', xAxisIndex: p, yAxisIndex: p, silent: true, showSymbol: false, symbol: 'none', animation: false, z: 4,
    lineStyle: {color: n === 2 ? '#a8a8a8' : '#666', width: n === 2 ? 2 : 1},
    data: [[step, from], [step, to]]});
});

const chart = echarts.init(document.getElementById('chart'), null, {renderer: 'canvas'});
chart.setOption({animation: false, backgroundColor: '#fff', grid: grids, xAxis: xAxes, yAxis: yAxes, series: series, graphic: graphics});
</script>
</body></html>
